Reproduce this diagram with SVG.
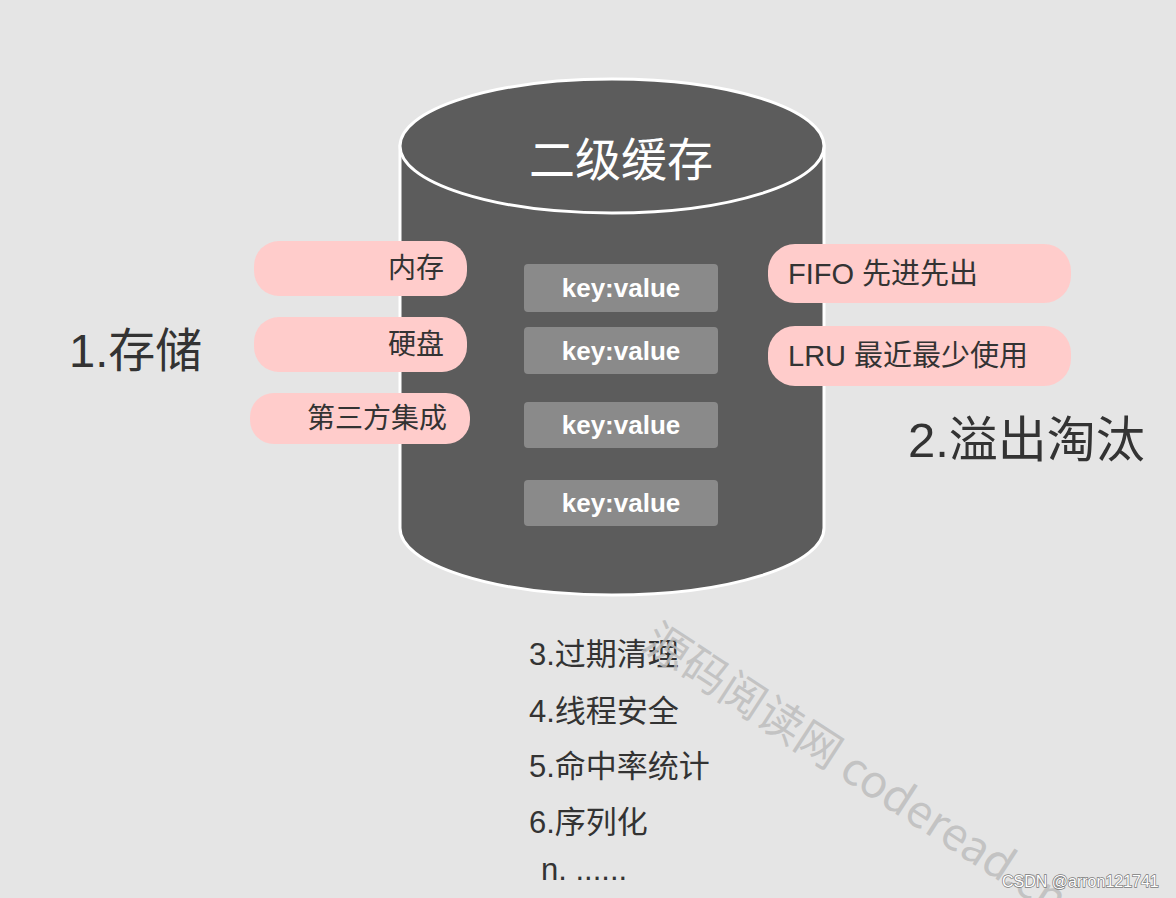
<svg xmlns="http://www.w3.org/2000/svg" width="1176" height="898" viewBox="0 0 1176 898">
<defs>
<style>
.bg{fill:#e5e5e5}
.cyl{fill:#5c5c5c;stroke:#ffffff;stroke-width:3}
.pill{fill:#ffcccb}
.kv{fill:#8a8a8a}
.t{font-family:"Liberation Sans","Noto Sans CJK SC",sans-serif;fill:#333333}
.pt{font-size:28px;dominant-baseline:central}
.pr{font-size:29px;dominant-baseline:central}
.kvt{font-family:"Liberation Sans",sans-serif;font-weight:bold;font-size:26px;fill:#ffffff;text-anchor:middle;dominant-baseline:central}
.big{font-size:47px}
.list{font-size:31px}
.wm{font-family:"Noto Sans CJK SC","Liberation Sans",sans-serif;font-size:45px;fill:#bdbdbd;fill-opacity:0.85}
.csdn{font-family:"Liberation Sans",sans-serif;font-size:16px;fill:#ffffff;stroke:#7a7a7a;stroke-width:1.4;paint-order:stroke}
</style>
</defs>
<rect class="bg" x="0" y="0" width="1176" height="898"/>

<g id="cylinder">
<path class="cyl" d="M400,146 L400,528 A212,67 0 0 0 824,528 L824,146 Z"/>
<ellipse class="cyl" cx="612" cy="146" rx="212" ry="67"/>
<text x="621" y="176" text-anchor="middle" style="font-family:'Noto Sans CJK SC',sans-serif;font-size:46px;fill:#ffffff">二级缓存</text>
</g>

<g id="kv1"><rect class="kv" x="524" y="264" width="194" height="48" rx="4"/><text class="kvt" x="621" y="288">key:value</text></g>
<g id="kv2"><rect class="kv" x="524" y="327" width="194" height="47" rx="4"/><text class="kvt" x="621" y="350.5">key:value</text></g>
<g id="kv3"><rect class="kv" x="524" y="402" width="194" height="46" rx="4"/><text class="kvt" x="621" y="425">key:value</text></g>
<g id="kv4"><rect class="kv" x="524" y="480" width="194" height="46" rx="4"/><text class="kvt" x="621" y="503">key:value</text></g>

<g id="mem"><rect class="pill" x="254" y="241" width="213" height="55" rx="25"/><text class="t pt" x="444" y="268.5" text-anchor="end">内存</text></g>
<g id="disk"><rect class="pill" x="254" y="317" width="213" height="55" rx="25"/><text class="t pt" x="444" y="344.5" text-anchor="end">硬盘</text></g>
<g id="third"><rect class="pill" x="250" y="393" width="220" height="51" rx="24"/><text class="t pt" x="447" y="418.5" text-anchor="end">第三方集成</text></g>

<g id="fifo"><rect class="pill" x="768" y="244" width="303" height="59" rx="27"/><text class="t pr" x="788" y="273.5">FIFO 先进先出</text></g>
<g id="lru"><rect class="pill" x="768" y="326" width="303" height="60" rx="27"/><text class="t pr" x="788" y="356">LRU 最近最少使用</text></g>

<g id="storage"><text class="t big" x="69" y="367">1.存储</text></g>
<g id="evict"><text class="t" x="908" y="457" style="font-size:49px">2.溢出淘汰</text></g>

<g id="features">
<text class="t list" x="529" y="665">3.过期清理</text>
<text class="t list" x="529" y="722">4.线程安全</text>
<text class="t list" x="529" y="777">5.命中率统计</text>
<text class="t list" x="529" y="833">6.序列化</text>
<text class="t list" x="541" y="880">n. ......</text>
</g>

<g id="connectors"/>

<text class="wm" transform="translate(640,648) rotate(33)">源码阅读网 coderead.cn</text>
<text class="csdn" x="1002" y="887">CSDN @arron121741</text>
</svg>
